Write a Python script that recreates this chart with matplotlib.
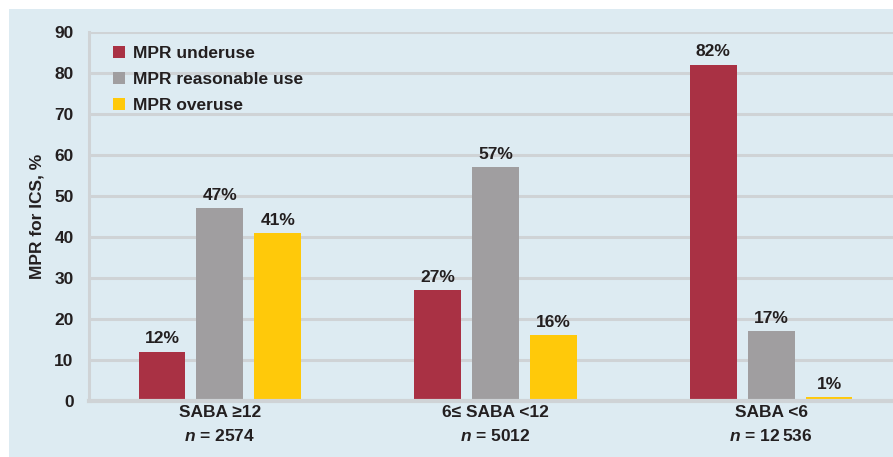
import matplotlib
matplotlib.use("Agg")
import matplotlib.pyplot as plt
from matplotlib.patches import Rectangle, Patch
import numpy as np

FONT = ["Liberation Sans Narrow", "Liberation Sans", "DejaVu Sans"]
plt.rcParams['font.family'] = FONT
plt.rcParams['mathtext.fontset'] = 'custom'
plt.rcParams['mathtext.it'] = 'Liberation Sans:italic:bold'
plt.rcParams['mathtext.rm'] = 'Liberation Sans:bold'

groups = ["SABA \u226512", "6\u2264 SABA <12", "SABA <6"]
group_n = ["2574", "5012", "12\u2009536"]
series = ["MPR underuse", "MPR reasonable use", "MPR overuse"]
underuse = [12, 27, 82]
reasonable = [47, 57, 17]
overuse = [41, 16, 1]
yticks = [0, 10, 20, 30, 40, 50, 60, 70, 80, 90]
ylabel = "MPR for ICS, %"

colors = ["#a93144", "#a09ea0", "#ffc90a"]
txt = "#231f20"
gridc = "#cfd3d6"
bg = "#ddebf2"

fig = plt.figure(figsize=(8.93, 4.57), dpi=100)
fig.patch.set_facecolor("white")
fig.patches.append(Rectangle((9/893, 0), 1, (457-9)/457, transform=fig.transFigure,
                             facecolor=bg, edgecolor="none", zorder=-10))

ax = fig.add_axes([89/893, 1-401/457, 1-89/893, (401-32)/457])
ax.set_facecolor("none")

x = np.arange(len(groups))
w = 0.17
off = 0.21
for i, (vals, c, lab) in enumerate(zip([underuse, reasonable, overuse], colors, series)):
    pos = x + (i-1)*off
    ax.bar(pos, vals, width=w, color=c, zorder=3, label=lab)
    for p, v in zip(pos, vals):
        ax.text(p, v + 1.3, f"{v}%", ha="center", va="bottom", fontsize=12.5,
                fontweight="bold", color=txt, zorder=4)

ax.set_ylim(0, 90)
ax.set_xlim(-0.475, 2.442)
ax.set_yticks(yticks)
ax.set_yticklabels([str(t) for t in yticks], fontsize=12.5, fontweight="bold", color=txt)
ax.yaxis.grid(True, color=gridc, linewidth=2.2, zorder=0)
ax.set_axisbelow(True)
ax.tick_params(axis="y", length=0, pad=11)
ax.tick_params(axis="x", length=0, pad=3)
ax.set_xticks(x)
ax.set_xticklabels([f"{g}\n$n$ = {n}" for g, n in zip(groups, group_n)],
                   fontsize=12.5, fontweight="bold", color=txt, linespacing=1.6)
for s in ["top", "right"]:
    ax.spines[s].set_visible(False)
ax.spines["left"].set_color(gridc)
ax.spines["left"].set_linewidth(2.2)
ax.spines["bottom"].set_color(gridc)
ax.spines["bottom"].set_linewidth(3)
ax.spines["bottom"].set_zorder(5)
ax.set_ylabel(ylabel, fontsize=12.5, fontweight="bold", color=txt, labelpad=7)

handles = [Patch(facecolor=c, edgecolor="none") for c in colors]
leg = ax.legend(handles, series, loc="upper left", bbox_to_anchor=(0.01, 1.005),
                frameon=False, handlelength=0.7, handleheight=0.7,
                handletextpad=0.45, labelspacing=0.62,
                prop={"family": FONT, "weight": "bold", "size": 12.5})
for t in leg.get_texts():
    t.set_color(txt)

fig.savefig("out.png", dpi=100, facecolor=fig.get_facecolor())
